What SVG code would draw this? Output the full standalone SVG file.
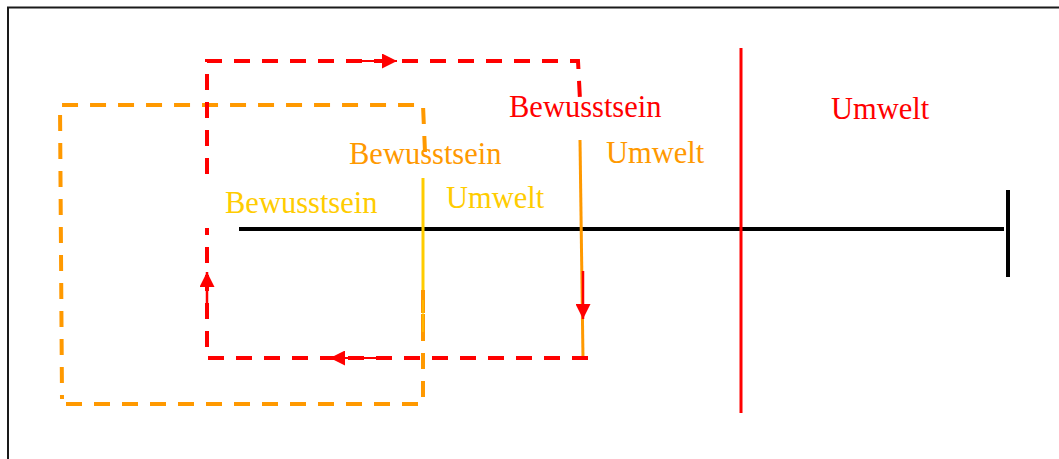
<svg xmlns="http://www.w3.org/2000/svg" width="1059" height="459" viewBox="0 0 1059 459">
  <style>
    .lbl { font-family: "Liberation Serif", "Times New Roman", serif; font-size: 30.5px; }
    .red { fill: #ff0000; }
    .orange { fill: #ff9900; }
    .yellow { fill: #ffcc00; }
    .dash { fill: none; stroke-width: 4; stroke-dasharray: 16 12; }
  </style>
  <defs>
    <marker id="head" viewBox="0 0 15 15" refX="15" refY="7.5" markerWidth="15" markerHeight="15" markerUnits="userSpaceOnUse" orient="auto">
      <path d="M0,0 L15,7.5 L0,15 z" fill="#ff0000"/>
    </marker>
  </defs>

  <rect x="0" y="0" width="1059" height="459" fill="#ffffff"/>
  <!-- outer frame -->
  <rect x="8" y="7.5" width="1070" height="470" fill="none" stroke="#1a1a1a" stroke-width="2"/>

  <g id="connectors">
    <!-- axis -->
    <line x1="239" y1="229" x2="1004" y2="229" stroke="#000000" stroke-width="4"/>
    <line x1="1008" y1="190" x2="1008" y2="277" stroke="#000000" stroke-width="4"/>

    <!-- outer boundary (red) -->
    <line x1="741" y1="48" x2="741" y2="413" stroke="#ff0000" stroke-width="3"/>

    <!-- orange dashed frame -->
    <path class="dash" stroke="#ff9900" d="M425,152 L423,105 L60,105 L62,399"/>
    <path class="dash" stroke="#ff9900" d="M66,404 L423,404 L423,290"/>
    <!-- yellow boundary -->
    <line x1="423" y1="178" x2="423" y2="290" stroke="#ffcc00" stroke-width="3"/>
    <path class="dash" stroke="#ff9900" stroke-width="3" style="stroke-dasharray:14 10" d="M423,290 L423,332"/>
    <line x1="423" y1="300" x2="423" y2="332" stroke="#ffcc00" stroke-width="2" opacity="0.6"/>

    <!-- orange boundary -->
    <line x1="580" y1="140" x2="583" y2="359" stroke="#ff9900" stroke-width="3"/>

    <!-- red dashed loop -->
    <path class="dash" stroke="#ff0000" d="M207,174 L207,61 L578,61 L580,100"/>
    <path class="dash" stroke="#ff0000" d="M588,358 L207,358 L207,228"/>

    <!-- loop direction arrows -->
    <line x1="362" y1="61" x2="397" y2="61" stroke="#ff0000" stroke-width="2" marker-end="url(#head)"/>
    <line x1="378" y1="358" x2="330" y2="358" stroke="#ff0000" stroke-width="2" marker-end="url(#head)"/>
    <line x1="207" y1="312" x2="207" y2="272" stroke="#ff0000" stroke-width="2.5" marker-end="url(#head)"/>
    <line x1="583" y1="271" x2="583" y2="319" stroke="#ff0000" stroke-width="2.5" marker-end="url(#head)"/>
  </g>

  <g id="node-red-bewusstsein"><text class="lbl red" x="509" y="117">Bewusstsein</text></g>
  <g id="node-red-umwelt"><text class="lbl red" x="831" y="119">Umwelt</text></g>
  <g id="node-orange-bewusstsein"><text class="lbl orange" x="349" y="164">Bewusstsein</text></g>
  <g id="node-orange-umwelt"><text class="lbl orange" x="606" y="163">Umwelt</text></g>
  <g id="node-yellow-bewusstsein"><text class="lbl yellow" x="225" y="213">Bewusstsein</text></g>
  <g id="node-yellow-umwelt"><text class="lbl yellow" x="446" y="208">Umwelt</text></g>
</svg>
